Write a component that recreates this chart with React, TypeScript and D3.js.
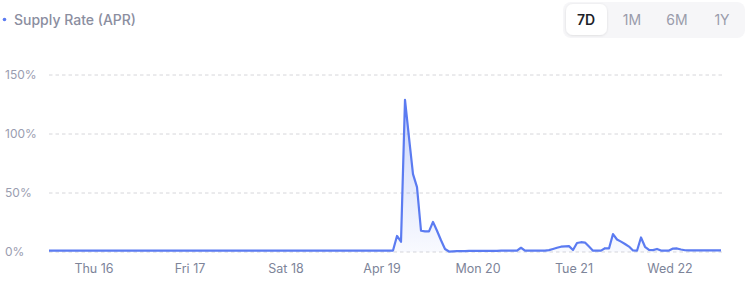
import React from "react";
import * as d3 from "d3";

// Hourly supply rate (APR, %) starting Wed Apr 15 2020 12:45
const seriesStart = new Date(2020, 3, 15, 12, 45);
const supplyRate: number[] = [
  // Wed 15 afternoon -> Sun 19 early morning
  1.1, 1.1, 1.1, 1.1, 1.1, 1.1, 1.1, 1.1, 1.1, 1.1,
  1.1, 1.1, 1.1, 1.1, 1.1, 1.1, 1.1, 1.1, 1.1, 1.1,
  1.1, 1.1, 1.1, 1.1, 1.1, 1.1, 1.1, 1.1, 1.1, 1.1,
  1.1, 1.1, 1.1, 1.1, 1.1, 1.1, 1.1, 1.1, 1.1, 1.1,
  1.1, 1.1, 1.1, 1.1, 1.1, 1.1, 1.1, 1.1, 1.1, 1.1,
  1.1, 1.1, 1.1, 1.1, 1.1, 1.1, 1.1, 1.1, 1.1, 1.1,
  1.1, 1.1, 1.1, 1.1, 1.1, 1.1, 1.1, 1.1, 1.1, 1.1,
  1.1, 1.1, 1.1, 1.1, 1.1, 1.1, 1.1, 1.1, 1.1, 1.1,
  1.1, 1.1, 1.1, 1.1, 1.1, 1.1,
  // spike on Apr 19
  1.2, 13.6, 8.7, 129, 97, 66, 55, 18, 17.5, 17.5,
  25.5, 18, 10, 2.5, 0.4,
  // Mon 20
  0.6, 0.7, 0.8, 0.8, 0.9, 0.9, 1.0, 1.0, 1.0, 1.0,
  1.0, 1.0, 1.1, 1.1, 1.1, 1.1, 1.1, 3.6, 1.2, 1.1,
  1.1, 1.1, 1.1, 1.1,
  // Tue 21 -> Wed 22
  1.6, 2.6, 3.6, 4.5, 4.8, 5.0, 1.7, 7.6, 8.3, 8.0,
  4.6, 1.1, 1.1, 1.2, 3.2, 3.0, 15.2, 10.6, 8.8, 6.8,
  4.6, 1.3, 1.1, 12.3, 4.4, 1.8, 1.6, 2.6, 1.2, 1.1,
  1.2, 2.9, 3.0, 2.1, 1.5, 1.3, 1.3, 1.3, 1.3, 1.3,
  1.3, 1.3, 1.3, 1.3,
];

const yTicks = [0, 50, 100, 150];
const xTickLabels = ["Thu 16", "Fri 17", "Sat 18", "Apr 19", "Mon 20", "Tue 21", "Wed 22"];
const ranges = ["7D", "1M", "6M", "1Y"];
const legendLabel = "Supply Rate (APR)";

const W = 750;
const H = 283;
const LINE = "#5b7bf1";
const FONT = "Inter, 'Noto Sans', sans-serif";

export default function App() {
  const points = supplyRate.map((v, i) => ({
    t: d3.timeHour.offset(seriesStart, i),
    v,
  }));
  const end = points[points.length - 1].t;

  const x = d3.scaleTime().domain([seriesStart, end]).range([49, 721]);
  const y = d3.scaleLinear().domain([0, 150]).range([252, 75]);

  const line = d3
    .line<{ t: Date; v: number }>()
    .x((d) => x(d.t))
    .y((d) => y(d.v));
  const area = d3
    .area<{ t: Date; v: number }>()
    .x((d) => x(d.t))
    .y0(y(0))
    .y1((d) => y(d.v));

  const dayTicks = d3.timeDay.range(d3.timeDay.ceil(seriesStart), end);

  const btnCenters = [586, 632, 677, 722];

  return (
    <svg
      width={W}
      height={H}
      style={{ position: "absolute", left: 0, top: 0, background: "#fff" }}
      fontFamily={FONT}
    >
      <defs>
        <linearGradient id="areaFill" x1="0" y1="0" x2="0" y2="1">
          <stop offset="0%" stopColor={LINE} stopOpacity={0.32} />
          <stop offset="100%" stopColor={LINE} stopOpacity={0.04} />
        </linearGradient>
        <filter id="btnShadow" x="-20%" y="-20%" width="140%" height="140%">
          <feDropShadow dx="0" dy="0.5" stdDeviation="1" floodColor="#000" floodOpacity="0.12" />
        </filter>
      </defs>

      {/* legend */}
      <circle cx={4.5} cy={19.5} r={1.8} fill={LINE} />
      <text x={14} y={25} fontSize={14} fill="#8b8e9f" fontWeight={500}>
        {legendLabel}
      </text>

      {/* range selector */}
      <rect x={563} y={2} width={182} height={36} rx={8} fill="#f6f6f8" />
      <rect x={566} y={4} width={41} height={31} rx={7} fill="#fff" filter="url(#btnShadow)" />
      {ranges.map((r, i) => (
        <text
          key={r}
          x={btnCenters[i]}
          y={20}
          dy="0.35em"
          textAnchor="middle"
          fontSize={14}
          fontWeight={i === 0 ? 600 : 400}
          fill={i === 0 ? "#1e1f2b" : "#9a9cab"}
        >
          {r}
        </text>
      ))}

      {/* grid + y labels */}
      {yTicks.map((t) => (
        <g key={t}>
          <line
            x1={49}
            x2={722}
            y1={y(t)}
            y2={y(t)}
            stroke="#d6d6da"
            strokeDasharray="3.5,3"
            strokeWidth={1}
          />
          <text x={5} y={y(t)} dy="0.35em" fontSize={12} fill="#9a9db0">
            {t}%
          </text>
        </g>
      ))}

      {/* series */}
      <path d={area(points) || ""} fill="url(#areaFill)" />
      <path
        d={line(points) || ""}
        fill="none"
        stroke={LINE}
        strokeWidth={2.2}
        strokeLinejoin="round"
      />

      {/* x labels */}
      {dayTicks.map((d, i) => (
        <text
          key={i}
          x={x(d)}
          y={269}
          dy="0.35em"
          textAnchor="middle"
          fontSize={12.5}
          fill="#7d8499"
        >
          {xTickLabels[i]}
        </text>
      ))}
    </svg>
  );
}
